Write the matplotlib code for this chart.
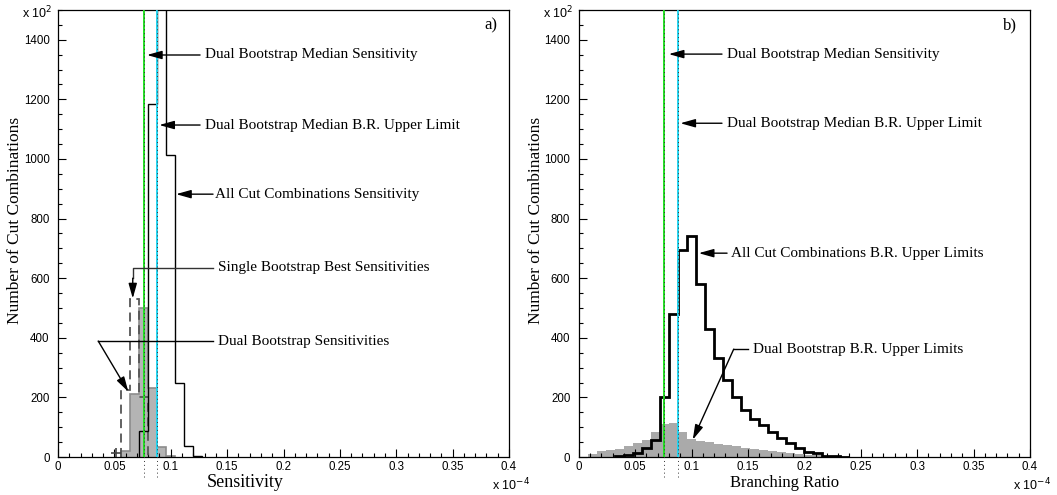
import numpy as np
import matplotlib
matplotlib.use("Agg")
import matplotlib.pyplot as plt
from matplotlib.ticker import MultipleLocator, FormatStrFormatter

# ---- data (counts in units of 10^2, x in units of 10^-4) ----
bin_w = 0.008

# panel a) sensitivity
sens_all_start = 9
sens_all = [88, 1185, 1750, 1015, 248, 38, 3]
sens_dual_start = 7
sens_dual = [21, 211, 500, 233, 32, 5]
sens_single_start = 7
sens_single = [225, 531, 200]

# panel b) branching ratio upper limits
br_all_start = 4
br_all = [2, 6, 15, 30, 58, 200, 481, 693, 741, 581, 430, 333, 258, 202, 158,
          128, 108, 85, 63, 47, 29, 18, 12, 5, 3, 1]
br_dual_start = 1
br_dual = [10, 19, 22, 27, 36, 47, 56, 84, 111, 115, 83, 62, 54, 50, 45, 39,
           36, 30, 27, 22, 19, 16, 13, 11, 8, 6, 4, 2, 1]

median_sens = 0.076
median_ul = 0.088

serif = ["Liberation Serif", "DejaVu Serif"]
narrow = ["Liberation Sans Narrow", "Liberation Sans", "DejaVu Sans"]


def edges(start, vals):
    return (start + np.arange(len(vals) + 1)) * bin_w


fig = plt.figure(figsize=(10.57, 4.95), dpi=100)
axL = fig.add_axes([58 / 1057, 38 / 495, 451 / 1057, 447 / 495])
axR = fig.add_axes([578.7 / 1057, 38 / 495, 451.3 / 1057, 447 / 495])

for ax in (axL, axR):
    ax.set_xlim(0, 0.4)
    ax.set_ylim(0, 1500)
    ax.xaxis.set_major_locator(MultipleLocator(0.05))
    ax.xaxis.set_minor_locator(MultipleLocator(0.01))
    ax.yaxis.set_major_locator(MultipleLocator(200))
    ax.yaxis.set_minor_locator(MultipleLocator(50))
    ax.xaxis.set_major_formatter(FormatStrFormatter("%g"))
    ax.yaxis.set_major_formatter(FormatStrFormatter("%g"))
    ax.tick_params(which="both", direction="in", top=False, right=False,
                   labelsize=8.3, labelfontfamily=narrow, width=0.8)
    ax.tick_params(which="major", length=6)
    ax.tick_params(which="minor", length=3)
    ax.tick_params(axis="x", pad=3)
    ax.tick_params(axis="y", pad=6)
    for s in ax.spines.values():
        s.set_linewidth(0.9)
    ax.set_ylabel("Number of Cut Combinations", family=serif, fontsize=12.5)
    ax.yaxis.set_label_coords(-0.077, 0.53)
    ax.text(-0.08, 0.975, r"x 10$^2$", transform=ax.transAxes, fontsize=9,
            family=narrow, ha="left", va="bottom")
    ax.text(0.962, -0.062, r"x 10$^{-4}$", transform=ax.transAxes, fontsize=9,
            family=narrow, ha="left", va="center")

# ---- panel a ----
axL.stairs(sens_dual, edges(sens_dual_start, sens_dual), fill=True,
           facecolor="#b4b4b4", edgecolor="none", zorder=1)
axL.stairs(sens_dual, edges(sens_dual_start, sens_dual), color="#8c8c8c",
           lw=1.2, zorder=1.5)
axL.stairs(sens_single, edges(sens_single_start, sens_single), color="#555555",
           lw=1.3, ls=(0, (5, 3)), zorder=2)
axL.stairs(sens_all, edges(sens_all_start, sens_all), color="black", lw=1.0,
           zorder=3)
axL.plot([0.051], [14], marker="+", ms=7, color="#444444", mew=1.2)

# ---- panel b ----
axR.stairs(br_dual, edges(br_dual_start, br_dual), fill=True,
           facecolor="#aaaaaa", edgecolor="none", zorder=1)
axR.stairs(br_all, edges(br_all_start, br_all), color="black", lw=2.0, zorder=3)

for ax in (axL, axR):
    ax.axvline(median_sens, color="#22e022", lw=1.4, zorder=4)
    ax.axvline(median_ul, color="#22d4f0", lw=1.4, zorder=4)
    for xv in (median_sens, median_ul):
        ax.plot([xv, xv], [-68, 1500], ls=(0, (1, 3)), color="#333333", lw=0.7,
                clip_on=False, zorder=5)

axL.set_xlabel("Sensitivity", family=serif, fontsize=13)
axL.xaxis.set_label_coords(0.415, -0.058)
axR.set_xlabel("Branching Ratio", family=serif, fontsize=12)
axR.xaxis.set_label_coords(0.457, -0.058)
axL.xaxis.label.set_va("center")
axR.xaxis.label.set_va("center")

axL.text(0.9734, 0.966, "a)", transform=axL.transAxes, family=serif,
         fontsize=12, ha="right", va="center")
axR.text(0.972, 0.966, "b)", transform=axR.transAxes, family=serif,
         fontsize=12, ha="right", va="center")

arrow = dict(arrowstyle="-|>,head_length=1.0,head_width=0.28", color="black",
             lw=1.0, shrinkA=0, shrinkB=0, mutation_scale=9)
fs = 11


def note(ax, text, tx, ty, tip, start):
    ax.annotate("", xy=tip, xytext=start, arrowprops=arrow, zorder=6)
    ax.text(tx, ty, text, family=serif, fontsize=fs, ha="left", va="center",
            zorder=6)


note(axL, "Dual Bootstrap Median Sensitivity", 0.1304, 1349,
     (0.0789, 1349), (0.126, 1349))
note(axL, "Dual Bootstrap Median B.R. Upper Limit", 0.1304, 1114,
     (0.0898, 1114), (0.126, 1114))
note(axL, "All Cut Combinations Sensitivity", 0.139, 882,
     (0.1047, 882), (0.1375, 882))

axL.plot([0.1375, 0.0663, 0.0663], [635, 635, 600], color="#333333", lw=1.0,
         zorder=6)
note(axL, "Single Bootstrap Best Sensitivities", 0.142, 635,
     (0.0663, 532), (0.0663, 600))
axL.plot([0.1375, 0.0357], [389, 389], color="black", lw=1.0, zorder=6)
note(axL, "Dual Bootstrap Sensitivities", 0.142, 389,
     (0.0624, 219), (0.0357, 389))

note(axR, "Dual Bootstrap Median Sensitivity", 0.1315, 1352,
     (0.0798, 1352), (0.127, 1352))
note(axR, "Dual Bootstrap Median B.R. Upper Limit", 0.1315, 1120,
     (0.0901, 1120), (0.127, 1120))
note(axR, "All Cut Combinations B.R. Upper Limits", 0.135, 684,
     (0.1064, 684), (0.1315, 684))
axR.plot([0.150, 0.1374], [362, 362], color="black", lw=1.0, zorder=6)
note(axR, "Dual Bootstrap B.R. Upper Limits", 0.1543, 362,
     (0.1011, 58), (0.1374, 362))

fig.savefig("out.png", dpi=100)
